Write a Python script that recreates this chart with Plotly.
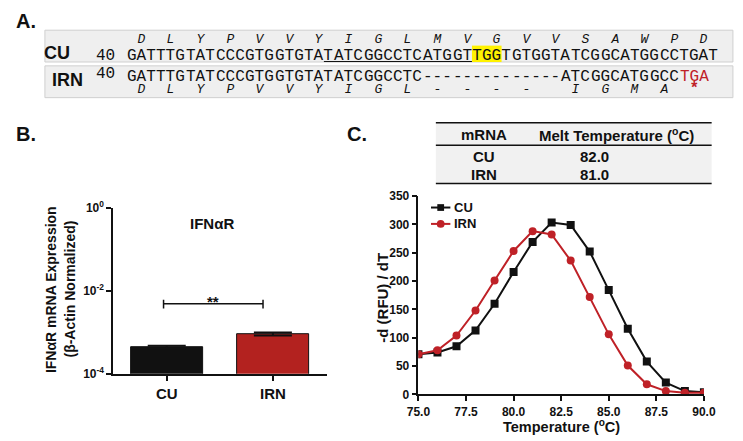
import plotly.graph_objects as go

W, H = 743, 441
def PX(x): return x / W
def PY(y): return 1 - y / H

NB = "\u00a0"

# ---------------- Panel A data ----------------
seq_cu = "GATTTGTATCCCGTGGTGTATATCGGCCTCATGGTTGGTGTGGTATCGGCATGGCCTGAT"
seq_irn = "GATTTGTATCCCGTGGTGTATATCGGCCTC" + "-" * 14 + "ATCGGCATGGCCTGA"
aa_cu = list("DLYPVVYIGLMVGVVSAWPD")
aa_irn = list("DLYPVVYIGL") + ["-"] * 4 + list("IGMA*")
seq_start_label = "40"
underline_span = (20, 35)
highlight_span = (35, 38)
stop_span = (56, 59)
gap_start, gap_len = 30, 14

# ---------------- Panel B data ----------------
groups = ["CU", "IRN"]
expr = [4.4e-4, 9.2e-4]
expr_err = [0.35e-4, 0.8e-4]
sig_label = "**"

# ---------------- Panel C data ----------------
temps = [75, 76, 77, 78, 79, 80, 81, 82, 83, 84, 85, 86, 87, 88, 89, 90]
cu_melt = [71, 74, 85, 113, 160, 216, 269, 303, 299, 252, 184, 116, 58, 21, 6, 4]
irn_melt = [71, 78, 104, 148, 201, 253, 288, 282, 236, 172, 106, 51, 18, 6, 3, 3]
table_header = ["mRNA", "Melt Temperature (<sup>o</sup>C)"]
table_rows = [["CU", "82.0"], ["IRN", "81.0"]]

BLACK = "#111111"
RED = "#bf2127"
SANS = "Liberation Sans, Arial, sans-serif"
MONO = "Liberation Mono, Courier New, monospace"

fig = go.Figure()
ann = []
shapes = []

def txt(x, y, s, size, color=BLACK, family=SANS, bold=True, italic=False,
        xanchor="center", angle=0, align="center"):
    ann.append(dict(x=PX(x), y=PY(y), xref="paper", yref="paper", text=s,
                    showarrow=False, xanchor=xanchor, yanchor="middle",
                    textangle=angle, borderpad=0, borderwidth=0, align=align,
                    font=dict(size=size, color=color, family=family,
                              weight="bold" if bold else "normal",
                              style="italic" if italic else "normal")))

def rect(x0, y0, x1, y1, fill, line=None, lw=1, layer="below"):
    shapes.append(dict(type="rect", xref="paper", yref="paper",
                       x0=PX(x0), x1=PX(x1), y0=PY(y1), y1=PY(y0),
                       fillcolor=fill, layer=layer,
                       line=dict(color=line or fill, width=lw if line else 0)))

def hline(x0, x1, y, color=BLACK, w=1.5):
    shapes.append(dict(type="line", xref="paper", yref="paper",
                       x0=PX(x0), x1=PX(x1), y0=PY(y), y1=PY(y),
                       line=dict(color=color, width=w)))

# ---------------- Panel A layout ----------------
X0, CW = 118.3, 10.2
SEQ_PX, AA_PX = 16, 13

rect(34, 22, 745, 55, "#efefef", "#cfcfcf")
rect(34, 59, 745, 92, "#efefef", "#cfcfcf")
rect(X0 + highlight_span[0] * CW, 38, X0 + highlight_span[1] * CW, 55, "#fff200")
hline(X0 + underline_span[0] * CW, X0 + underline_span[1] * CW, 54.5, BLACK, 1)

def span(s, size, color=None, italic=False, bold=False):
    st = "font-size:%dpx" % size
    if color:
        st += ";color:%s" % color
    if italic:
        s = "<i>" + s + "</i>"
    if bold:
        s = "<b>" + s + "</b>"
    return "<span style='%s'>%s</span>" % (st, s)

# CU row: one two-line label per codon (amino acid over codon)
for k, a in enumerate(aa_cu):
    codon = seq_cu[3 * k:3 * k + 3]
    xc = X0 + (3 * k + 1.5) * CW
    txt(xc, 41, span(a, AA_PX, italic=True) + "<br>" + span(codon, SEQ_PX), 13,
        family=MONO, bold=False)

# IRN row: codons before gap, dash groups inside gap, codons after gap
segments = [(3 * k, 3 * k + 3) for k in range(10)] + \
           [(gap_start + 3 * k, gap_start + 3 * k + 3) for k in range(4)] + \
           [(gap_start + 12, gap_start + gap_len)] + \
           [(gap_start + gap_len + 3 * k, gap_start + gap_len + 3 * k + 3) for k in range(5)]
seg_aa = aa_irn[:14] + [None] + aa_irn[14:]
for (s0, s1), a in zip(segments, seg_aa):
    piece = seq_irn[s0:s1]
    is_stop = s0 >= stop_span[0]
    xc = X0 + (s0 + s1) / 2 * CW
    top = span(piece, SEQ_PX, color=RED if is_stop else None)
    if a is None:
        bottom = span(NB, AA_PX)
    elif a == "*":
        bottom = span(a, SEQ_PX, color=RED, bold=True)
    else:
        bottom = span(a, AA_PX, italic=True)
    txt(xc, 76.5, top + "<br>" + bottom, 9, family=MONO, bold=False)

txt(14, 12, "A.", 20)
txt(47, 46, "CU", 18)
txt(57, 74, "IRN", 18)
txt(97, 49, seq_start_label, 16, family=MONO, bold=False)
txt(97, 67, seq_start_label, 16, family=MONO, bold=False)

# ---------------- Panel B ----------------
txt(14, 130, "B.", 20)
fig.add_trace(go.Bar(
    x=[0, 1], y=expr, width=0.68,
    marker=dict(color=[BLACK, "#b3221f"], line=dict(color=BLACK, width=1)),
    error_y=dict(type="data", array=expr_err, visible=True, color=BLACK,
                 thickness=2, width=19),
    xaxis="x", yaxis="y", showlegend=False))
bx0, bx1 = -0.03, 0.907
by, blo, bhi = 4.92e-3, 3.77e-3, 6.1e-3
fig.add_trace(go.Scatter(
    x=[bx0, bx0, None, bx0, bx1, None, bx1, bx1],
    y=[blo, bhi, None, by, by, None, blo, bhi],
    mode="lines", line=dict(color=BLACK, width=1.5),
    xaxis="x", yaxis="y", showlegend=False, hoverinfo="skip"))
txt(208, 303, sig_label, 15)
txt(207, 223, "IFNαR", 15)
txt(41, 291, "IFNαR mRNA Expression", 14, angle=-90)
txt(60, 291, "(β-Actin Normalized)", 14, angle=-90)

# ---------------- Panel C ----------------
txt(357, 130, "C.", 20)
rect(438, 118, 723, 181, "#f1f1f1")
hline(438, 723, 118)
hline(438, 723, 141.5)
hline(438, 723, 181)
txt(488, 130, table_header[0], 15)
txt(625, 130, table_header[1], 15)
for r, yy in zip(table_rows, [153, 172]):
    txt(488, yy, r[0], 15)
    txt(602, yy, r[1], 15)

fig.add_trace(go.Scatter(
    x=temps, y=cu_melt, name="CU", mode="lines+markers",
    line=dict(color=BLACK, width=2),
    marker=dict(symbol="square", size=8, color=BLACK),
    xaxis="x2", yaxis="y2", showlegend=False))
fig.add_trace(go.Scatter(
    x=temps, y=irn_melt, name="IRN", mode="lines+markers",
    line=dict(color=RED, width=2),
    marker=dict(symbol="circle", size=8, color=RED),
    xaxis="x2", yaxis="y2", showlegend=False))

# manual legend
for name, col, sym, yy in [("CU", BLACK, "square", 206), ("IRN", RED, "circle", 223)]:
    hline(433, 453, yy, col, 2)
    if sym == "square":
        rect(439.5, yy - 3.5, 446.5, yy + 3.5, col, layer="above")
    else:
        shapes.append(dict(type="circle", xref="paper", yref="paper",
                           x0=PX(439), x1=PX(447), y0=PY(yy + 4), y1=PY(yy - 4),
                           fillcolor=col, line=dict(width=0)))
    txt(457, yy, name, 13, xanchor="left")

txt(568, 432.5, "Temperature (<sup>o</sup>C)", 14.5)
txt(382, 300, "-d (RFU) / dT", 15, angle=-90)

axis_common = dict(showline=True, linecolor=BLACK, linewidth=1.5,
                   ticks="outside", ticklen=5, tickwidth=1.5, tickcolor=BLACK,
                   showgrid=False, zeroline=False,
                   tickfont=dict(family=SANS, size=12, color=BLACK, weight="bold"))

fig.update_layout(
    width=W, height=H, margin=dict(l=0, r=0, t=0, b=0),
    paper_bgcolor="white", plot_bgcolor="rgba(0,0,0,0)",
    annotations=ann, shapes=shapes, showlegend=False,
    xaxis=dict(axis_common, domain=[PX(104.5), PX(325)], range=[-0.505, 1.505],
               tickvals=[0, 1], ticktext=groups, anchor="y",
               tickfont=dict(family=SANS, size=15, color=BLACK, weight="bold")),
    yaxis=dict(axis_common, domain=[PY(378.5), PY(206.7)], type="log",
               range=[-4, 0], tickvals=[1e-4, 1e-2, 1],
               ticktext=["10<sup>-4</sup>", "10<sup>-2</sup>", "10<sup>0</sup>"],
               anchor="x"),
    xaxis2=dict(axis_common, domain=[PX(420), PX(715)], range=[75, 90],
                tick0=75, dtick=2.5, tickformat=".1f", anchor="y2"),
    yaxis2=dict(axis_common, domain=[PY(400), PY(194)], range=[0, 350],
                dtick=50, anchor="x2"),
    bargap=0,
)

fig.write_html("out.html", config={"displayModeBar": False},
               post_script="document.body.style.margin='0';"
                           "document.body.style.overflow='hidden';")
